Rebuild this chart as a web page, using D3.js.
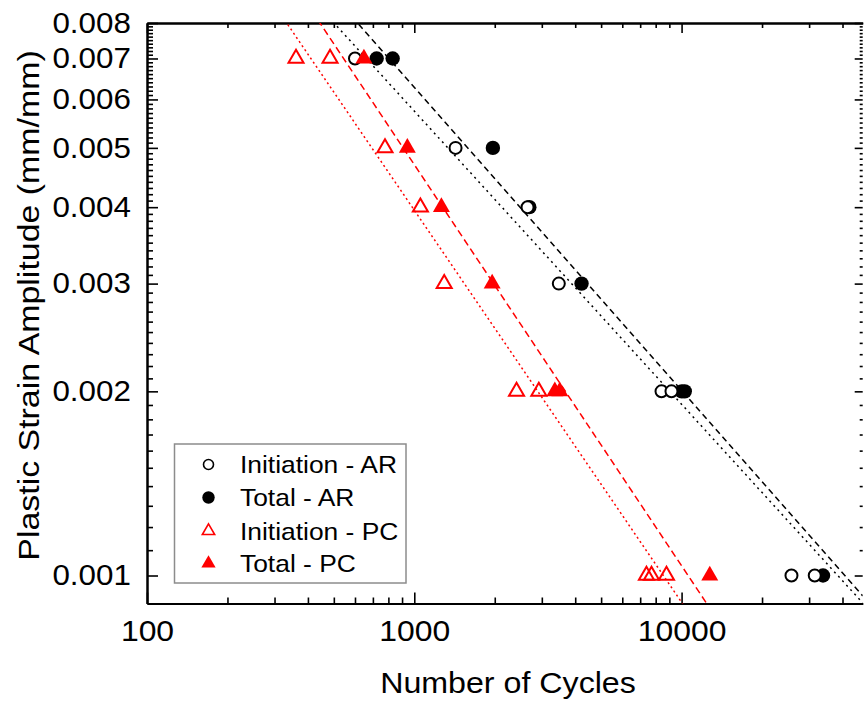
<!DOCTYPE html>
<html>
<head>
<meta charset="utf-8">
<script src="https://cdn.jsdelivr.net/npm/d3@7"></script>
<style>
body{margin:0;background:#fff;}
text{font-family:"Liberation Sans",Arial,sans-serif;}
</style>
</head>
<body>
<div id="chart"></div>
<script>
// ===== data =====
const initAR_N = [600, 1427, 2653, 3473, 8412, 9166, 25770, 31490];
const initAR_e = [0.007, 0.005, 0.004, 0.003, 0.002, 0.002, 0.001, 0.001];

const totalAR_N = [723, 830, 1968, 2694, 4224, 10016, 10280, 33820];
const totalAR_e = [0.007, 0.007, 0.005, 0.004, 0.003, 0.002, 0.002, 0.001];

const initPC_N = [361, 484, 777, 1054, 1294, 2413, 2924, 7389, 7717, 8781];
const initPC_e = [0.007, 0.007, 0.005, 0.004, 0.003, 0.002, 0.002, 0.001, 0.001, 0.001];

const totalPC_N = [648, 942, 1263, 1956, 3356, 3503, 12748];
const totalPC_e = [0.007, 0.005, 0.004, 0.003, 0.002, 0.002, 0.001];

// power law fits  e = A * N^c
const fitNames = ['Total - AR', 'Initiation - AR', 'Total - PC', 'Initiation - PC'];
const fitA = [0.1923, 0.1573, 0.4352, 0.3310];
const fitC = [-0.4954, -0.4792, -0.6557, -0.6409];

const legendLabels = ['Initiation - AR', 'Total - AR', 'Initiation - PC', 'Total - PC'];

const xMajor = [100, 1000, 10000];
const xMinor = [200, 300, 400, 500, 600, 700, 800, 900,
                2000, 3000, 4000, 5000, 6000, 7000, 8000, 9000,
                20000, 30000, 40000];
const yMajor = [0.001, 0.002, 0.003, 0.004, 0.005, 0.006, 0.007, 0.008];
const yMinor = [];
for(let k=10; k<80; k++){
    if(k % 10 != 0) yMinor.push(k/10000);
}

// ===== layout =====
const svgWidth = 864;
const svgHeight = 702;
const svgMargin = {top: 23, left: 147};
const width = 715.7;
const height = 580.5;

const svg = d3.select('#chart').append('svg')
    .attr('width', svgWidth)
    .attr('height', svgHeight)
    .style('background', '#fff');

const chartGroup = svg.append('g').attr('transform', `translate(${svgMargin.left}, ${svgMargin.top})`);

const xLogScale = d3.scaleLog().domain([100, 47600]).range([0, width]);
const yLogScale = d3.scaleLog().domain([0.0009, 0.008]).range([height, 0]);

chartGroup.append('clipPath').attr('id', 'plotClip')
    .append('rect').attr('width', width).attr('height', height);

// ===== axes =====
function styleAxis(g, fs, sx){
    g.attr('font-size', null).attr('font-family', null);
    g.select('.domain').attr('stroke-width', 2);
    g.selectAll('.tick line').attr('stroke-width', 1.6);
    g.selectAll('text')
        .attr('font-size', fs)
        .attr('fill', '#000')
        .attr('transform', `scale(${sx},1)`);
}

const gBottom = chartGroup.append('g').attr('transform', `translate(0,${height})`)
    .call(d3.axisBottom(xLogScale).tickValues(xMajor).tickSize(-11).tickSizeOuter(0)
        .tickPadding(17).tickFormat(d3.format('d')));
styleAxis(gBottom, 29, 1.1);
chartGroup.append('g').attr('transform', `translate(0,${height})`)
    .call(d3.axisBottom(xLogScale).tickValues(xMinor).tickSize(-6).tickSizeOuter(0).tickFormat(''))
    .call(g => styleAxis(g, 29, 1));

const gTop = chartGroup.append('g')
    .call(d3.axisTop(xLogScale).tickValues(xMajor).tickSize(-10).tickSizeOuter(0).tickFormat(''));
styleAxis(gTop, 29, 1);
chartGroup.append('g')
    .call(d3.axisTop(xLogScale).tickValues(xMinor).tickSize(-5).tickSizeOuter(0).tickFormat(''))
    .call(g => styleAxis(g, 29, 1));

const gLeft = chartGroup.append('g')
    .call(d3.axisLeft(yLogScale).tickValues(yMajor).tickSize(-11).tickSizeOuter(0)
        .tickPadding(15).tickFormat(d3.format('.3f')));
styleAxis(gLeft, 29, 1.08);
chartGroup.append('g')
    .call(d3.axisLeft(yLogScale).tickValues(yMinor).tickSize(-6).tickSizeOuter(0).tickFormat(''))
    .call(g => styleAxis(g, 29, 1));

const gRight = chartGroup.append('g').attr('transform', `translate(${width},0)`)
    .call(d3.axisRight(yLogScale).tickValues(yMajor).tickSize(-8).tickSizeOuter(0).tickFormat(''));
styleAxis(gRight, 29, 1);
gRight.select('.domain').remove();
chartGroup.append('g').attr('transform', `translate(${width},0)`)
    .call(d3.axisRight(yLogScale).tickValues(yMinor).tickSize(-3).tickSizeOuter(0).tickFormat(''))
    .call(g => { styleAxis(g, 29, 1); g.select('.domain').remove(); });

// axis titles
svg.append('text')
    .attr('transform', 'translate(508,693) scale(1.11,1)')
    .attr('text-anchor', 'middle')
    .attr('font-size', 29)
    .text('Number of Cycles');
svg.append('text')
    .attr('transform', 'translate(38.5,305.5) rotate(-90) scale(1.13,1)')
    .attr('text-anchor', 'middle')
    .attr('font-size', 30)
    .text('Plastic Strain Amplitude (mm/mm)');

// ===== fit lines =====
const fitColor = ['#000', '#000', '#ff0000', '#ff0000'];
const fitDash = ['6,4', '2,4', '7,4', '2,3'];
const line = d3.line().x(d => xLogScale(d[0])).y(d => yLogScale(d[1]));
const gLines = chartGroup.append('g').attr('clip-path', 'url(#plotClip)');
fitNames.forEach((name, i) => {
    const nDom = xLogScale.domain();
    const pts = nDom.map(n => [n, fitA[i] * Math.pow(n, fitC[i])]);
    gLines.append('path')
        .datum(pts)
        .attr('d', line)
        .attr('fill', 'none')
        .attr('stroke', fitColor[i])
        .attr('stroke-width', 1.5)
        .attr('stroke-dasharray', fitDash[i]);
});

// ===== markers =====
function zip(N, e){ return N.map((n, i) => ({N: n, e: e[i]})); }
const triOpen = d3.symbol().type(d3.symbolTriangle).size(98);
const triFill = d3.symbol().type(d3.symbolTriangle).size(125);

chartGroup.append('g').selectAll('circle').data(zip(totalAR_N, totalAR_e)).enter()
    .append('circle')
    .attr('cx', d => xLogScale(d.N))
    .attr('cy', d => yLogScale(d.e))
    .attr('r', 7.2)
    .attr('fill', '#000');

chartGroup.append('g').selectAll('circle').data(zip(initAR_N, initAR_e)).enter()
    .append('circle')
    .attr('cx', d => xLogScale(d.N))
    .attr('cy', d => yLogScale(d.e))
    .attr('r', 6)
    .attr('fill', '#fff')
    .attr('stroke', '#000')
    .attr('stroke-width', 2);

chartGroup.append('g').selectAll('path').data(zip(initPC_N, initPC_e)).enter()
    .append('path')
    .attr('transform', d => `translate(${xLogScale(d.N)},${yLogScale(d.e)})`)
    .attr('d', triOpen)
    .attr('fill', 'none')
    .attr('stroke', '#ff0000')
    .attr('stroke-width', 2);

chartGroup.append('g').selectAll('path').data(zip(totalPC_N, totalPC_e)).enter()
    .append('path')
    .attr('transform', d => `translate(${xLogScale(d.N)},${yLogScale(d.e)})`)
    .attr('d', triFill)
    .attr('fill', '#ff0000');

// ===== legend =====
const legend = svg.append('g').attr('transform', 'translate(174.5,444)');
legend.append('rect')
    .attr('width', 231.5)
    .attr('height', 139)
    .attr('fill', '#fff')
    .attr('stroke', '#8c8c8c')
    .attr('stroke-width', 1.5);

const rowY = [20.5, 53.5, 87, 119.5];
legendLabels.forEach((lab, i) => {
    const g = legend.append('g').attr('transform', `translate(34,${rowY[i]})`);
    if(i == 0){
        g.append('circle').attr('r', 5).attr('fill', '#fff').attr('stroke', '#000').attr('stroke-width', 1.6);
    } else if(i == 1){
        g.append('circle').attr('r', 6.2).attr('fill', '#000');
    } else if(i == 2){
        g.append('path').attr('d', d3.symbol().type(d3.symbolTriangle).size(66)())
            .attr('fill', 'none').attr('stroke', '#ff0000').attr('stroke-width', 1.6);
    } else {
        g.append('path').attr('d', d3.symbol().type(d3.symbolTriangle).size(88)())
            .attr('fill', '#ff0000');
    }
    legend.append('text')
        .attr('transform', `translate(65.5,${rowY[i] + 8.5}) scale(1.1,1)`)
        .attr('font-size', 24)
        .attr('fill', '#000')
        .text(lab);
});
</script>
</body>
</html>
